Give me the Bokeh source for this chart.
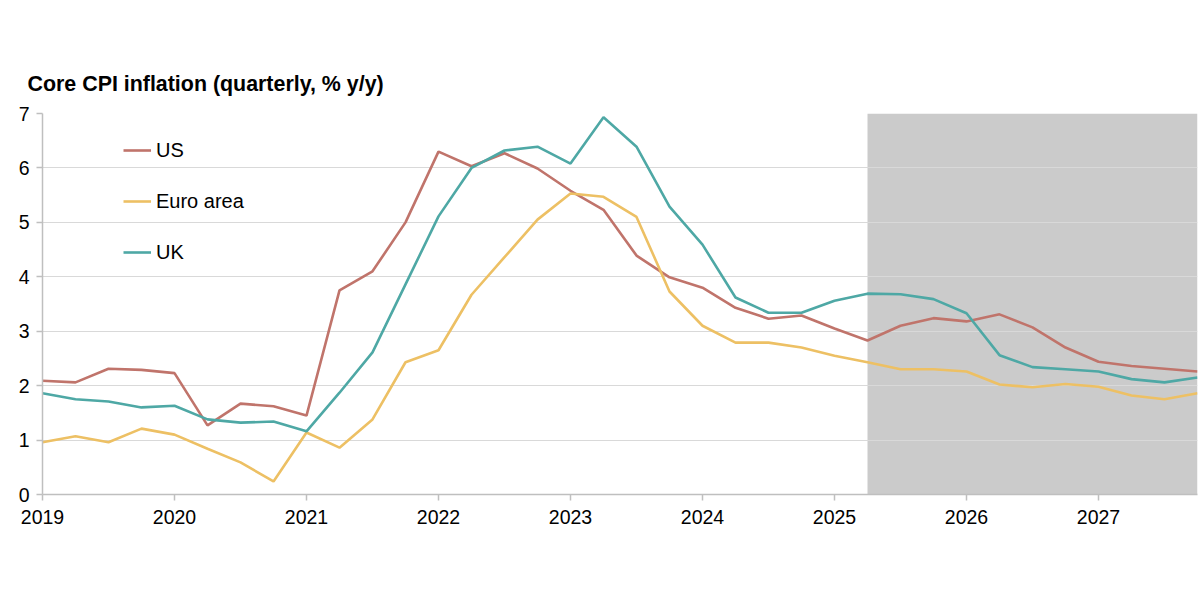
from bokeh.plotting import figure
from bokeh.models import BoxAnnotation, FixedTicker, Legend, LegendItem, Range1d
from bokeh.embed import file_html
from bokeh.resources import INLINE

quarters = [2019 + q / 4 for q in range(36)]

us = [2.09, 2.06, 2.31, 2.29, 2.23, 1.27, 1.67, 1.62, 1.45, 3.75, 4.10, 5.00,
      6.30, 6.03, 6.27, 5.99, 5.58, 5.23, 4.39, 3.99, 3.80, 3.43, 3.23, 3.29,
      3.05, 2.83, 3.10, 3.24, 3.18, 3.31, 3.07, 2.70, 2.44, 2.36, 2.31, 2.26]
euro = [0.96, 1.07, 0.96, 1.21, 1.10, 0.84, 0.59, 0.24, 1.14, 0.86, 1.38, 2.43,
        2.65, 3.67, 4.36, 5.05, 5.53, 5.47, 5.10, 3.73, 3.10, 2.79, 2.79, 2.70,
        2.55, 2.43, 2.30, 2.30, 2.26, 2.02, 1.97, 2.03, 1.98, 1.82, 1.75, 1.86]
uk = [1.86, 1.75, 1.71, 1.60, 1.63, 1.38, 1.32, 1.34, 1.16, 1.87, 2.61, 3.86,
      5.11, 6.00, 6.32, 6.39, 6.08, 6.93, 6.39, 5.29, 4.59, 3.62, 3.34, 3.34,
      3.56, 3.69, 3.68, 3.59, 3.33, 2.56, 2.34, 2.30, 2.26, 2.12, 2.06, 2.15]

forecast_start = 2025.25
year_ticks = [2019, 2020, 2021, 2022, 2023, 2024, 2025, 2026, 2027]
y_ticks = [0, 1, 2, 3, 4, 5, 6, 7]
title_text = "Core CPI inflation (quarterly, % y/y)"

US_C = "#C0746B"
EU_C = "#EDC064"
UK_C = "#4EA8A5"

p = figure(width=1198, height=580, output_backend="svg", toolbar_location=None,
           x_range=Range1d(2019, 2027.75), y_range=Range1d(0, 7),
           min_border_left=42, min_border_right=1, min_border_top=113,
           min_border_bottom=86)
p.outline_line_color = None
p.background_fill_color = "white"

p.title.text = title_text
p.title.align = "left"
p.title.offset = -15
p.title.text_font = "Liberation Sans"
p.title.text_font_size = "21.4px"
p.title.text_font_style = "bold"
p.title.text_color = "#000000"
p.title.standoff = 36

box = BoxAnnotation(left=forecast_start, right=2027.75, fill_color="#CBCBCB",
                    fill_alpha=1.0, line_color=None, level="image")
p.add_layout(box)

r_us = p.line(quarters, us, line_color=US_C, line_width=2.6)
r_eu = p.line(quarters, euro, line_color=EU_C, line_width=2.6)
r_uk = p.line(quarters, uk, line_color=UK_C, line_width=2.6)

p.xgrid.grid_line_color = None
p.ygrid.grid_line_color = "#D9D9D9"
p.ygrid.grid_line_width = 1.2
p.ygrid.ticker = FixedTicker(ticks=y_ticks)

p.xaxis.ticker = FixedTicker(ticks=year_ticks)
p.yaxis.ticker = FixedTicker(ticks=y_ticks)
for ax in (p.xaxis[0], p.yaxis[0]):
    ax.axis_line_color = "#BFBFBF"
    ax.axis_line_width = 1.5
    ax.major_tick_line_color = "#BFBFBF"
    ax.major_tick_line_width = 1.5
    ax.major_tick_out = 6
    ax.major_tick_in = 0
    ax.minor_tick_line_color = None
    ax.major_label_text_font = "Liberation Sans"
    ax.major_label_text_font_size = "19.5px"
    ax.major_label_text_color = "#000000"
p.xaxis.major_label_standoff = 9
p.yaxis.major_label_standoff = 7

legend = Legend(items=[LegendItem(label="US", renderers=[r_us]),
                       LegendItem(label="Euro area", renderers=[r_eu]),
                       LegendItem(label="UK", renderers=[r_uk])],
                location=(81, 230), orientation="vertical",
                glyph_width=28, glyph_height=24, label_height=24,
                spacing=27, padding=0, margin=0, label_standoff=5,
                label_text_font="Liberation Sans", label_text_font_size="20px",
                label_text_color="#000000",
                border_line_color=None, background_fill_alpha=0)
p.add_layout(legend, "center")

open("out.html", "w").write(file_html(p, INLINE))
